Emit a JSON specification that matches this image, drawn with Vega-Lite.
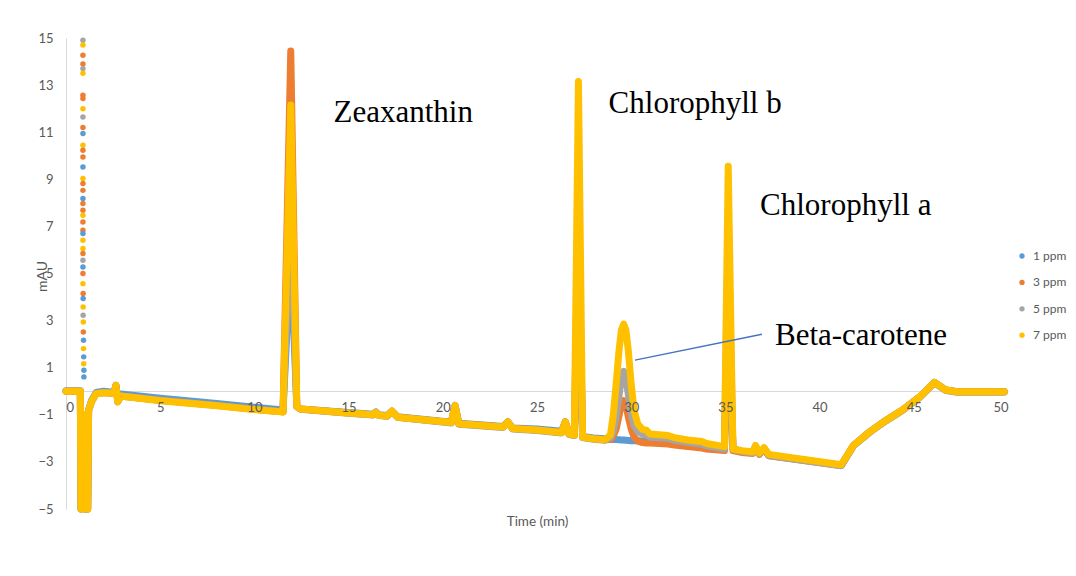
{
  "$schema": "https://vega.github.io/schema/vega-lite/v6.json",
  "autosize": {"type": "none"},
  "padding": {"left": 66, "top": 38, "right": 68, "bottom": 67},
  "width": 942,
  "height": 471,
  "background": "white",
  "config": {
    "view": {"stroke": null},
    "font": "Lato"
  },
  "resolve": {"axis": {"x": "independent"}},
  "datasets": {
    "trace": [
      {"Time": 0, "1 ppm": 0.02, "3 ppm": 0.0, "5 ppm": 0.0, "7 ppm": 0.0},
      {"Time": 0.76, "1 ppm": 0.02, "3 ppm": 0.0, "5 ppm": 0.0, "7 ppm": 0.0},
      {"Time": 0.8, "1 ppm": -5, "3 ppm": -5, "5 ppm": -5, "7 ppm": -5},
      {"Time": 0.95, "1 ppm": -1.0, "3 ppm": -1.0, "5 ppm": -1.0, "7 ppm": -1.0},
      {"Time": 1.0, "1 ppm": -5, "3 ppm": -5, "5 ppm": -5, "7 ppm": -5},
      {"Time": 1.15, "1 ppm": -5, "3 ppm": -5, "5 ppm": -5, "7 ppm": -5},
      {"Time": 1.2, "1 ppm": -0.8, "3 ppm": -0.8, "5 ppm": -0.8, "7 ppm": -0.8},
      {"Time": 1.35, "1 ppm": -0.4, "3 ppm": -0.45, "5 ppm": -0.45, "7 ppm": -0.45},
      {"Time": 1.6, "1 ppm": -0.05, "3 ppm": -0.1, "5 ppm": -0.1, "7 ppm": -0.1},
      {"Time": 2.0, "1 ppm": 0.0, "3 ppm": -0.05, "5 ppm": -0.05, "7 ppm": -0.06},
      {"Time": 2.55, "1 ppm": -0.05, "3 ppm": -0.1, "5 ppm": -0.1, "7 ppm": -0.1},
      {"Time": 2.65, "1 ppm": 0.25, "3 ppm": 0.25, "5 ppm": 0.25, "7 ppm": 0.25},
      {"Time": 2.75, "1 ppm": -0.4, "3 ppm": -0.45, "5 ppm": -0.45, "7 ppm": -0.45},
      {"Time": 2.9, "1 ppm": -0.12, "3 ppm": -0.2, "5 ppm": -0.2, "7 ppm": -0.2},
      {"Time": 5.0, "1 ppm": -0.3, "3 ppm": -0.38, "5 ppm": -0.38, "7 ppm": -0.4},
      {"Time": 8.0, "1 ppm": -0.52, "3 ppm": -0.6, "5 ppm": -0.6, "7 ppm": -0.62},
      {"Time": 10.0, "1 ppm": -0.68, "3 ppm": -0.76, "5 ppm": -0.76, "7 ppm": -0.78},
      {"Time": 11.52, "1 ppm": -0.8, "3 ppm": -0.87, "5 ppm": -0.87, "7 ppm": -0.88},
      {"Time": 11.93, "1 ppm": 5.9, "3 ppm": 14.45, "5 ppm": 7.8, "7 ppm": 12.15},
      {"Time": 12.25, "1 ppm": -0.65, "3 ppm": -0.65, "5 ppm": -0.65, "7 ppm": -0.65},
      {"Time": 12.45, "1 ppm": -0.75, "3 ppm": -0.75, "5 ppm": -0.76, "7 ppm": -0.75},
      {"Time": 15.0, "1 ppm": -0.9, "3 ppm": -0.92, "5 ppm": -0.93, "7 ppm": -0.92},
      {"Time": 16.3, "1 ppm": -0.98, "3 ppm": -1.0, "5 ppm": -1.01, "7 ppm": -1.0},
      {"Time": 16.45, "1 ppm": -0.88, "3 ppm": -0.9, "5 ppm": -0.91, "7 ppm": -0.9},
      {"Time": 16.6, "1 ppm": -1.0, "3 ppm": -1.02, "5 ppm": -1.03, "7 ppm": -1.02},
      {"Time": 17.05, "1 ppm": -1.03, "3 ppm": -1.05, "5 ppm": -1.06, "7 ppm": -1.05},
      {"Time": 17.3, "1 ppm": -0.85, "3 ppm": -0.85, "5 ppm": -0.87, "7 ppm": -0.85},
      {"Time": 17.6, "1 ppm": -1.08, "3 ppm": -1.1, "5 ppm": -1.11, "7 ppm": -1.1},
      {"Time": 20.45, "1 ppm": -1.32, "3 ppm": -1.33, "5 ppm": -1.35, "7 ppm": -1.33},
      {"Time": 20.65, "1 ppm": -0.6, "3 ppm": -0.62, "5 ppm": -0.62, "7 ppm": -0.6},
      {"Time": 20.85, "1 ppm": -1.36, "3 ppm": -1.38, "5 ppm": -1.4, "7 ppm": -1.38},
      {"Time": 23.2, "1 ppm": -1.5, "3 ppm": -1.52, "5 ppm": -1.54, "7 ppm": -1.52},
      {"Time": 23.45, "1 ppm": -1.3, "3 ppm": -1.3, "5 ppm": -1.32, "7 ppm": -1.3},
      {"Time": 23.7, "1 ppm": -1.56, "3 ppm": -1.58, "5 ppm": -1.6, "7 ppm": -1.58},
      {"Time": 25.0, "1 ppm": -1.6, "3 ppm": -1.65, "5 ppm": -1.67, "7 ppm": -1.65},
      {"Time": 26.3, "1 ppm": -1.7, "3 ppm": -1.75, "5 ppm": -1.77, "7 ppm": -1.75},
      {"Time": 26.5, "1 ppm": -1.3, "3 ppm": -1.3, "5 ppm": -1.32, "7 ppm": -1.3},
      {"Time": 26.7, "1 ppm": -1.78, "3 ppm": -1.82, "5 ppm": -1.84, "7 ppm": -1.82},
      {"Time": 26.98, "1 ppm": -1.82, "3 ppm": -1.86, "5 ppm": -1.88, "7 ppm": -1.86},
      {"Time": 27.2, "1 ppm": 4.5, "3 ppm": 6.0, "5 ppm": 8.0, "7 ppm": 13.15},
      {"Time": 27.42, "1 ppm": -1.92, "3 ppm": -1.95, "5 ppm": -1.97, "7 ppm": -1.95},
      {"Time": 28.0, "1 ppm": -1.98, "3 ppm": -2.02, "5 ppm": -2.04, "7 ppm": -2.02},
      {"Time": 28.6, "1 ppm": -2.02, "3 ppm": -2.06, "5 ppm": -2.08, "7 ppm": -2.06},
      {"Time": 28.9, "1 ppm": -2.04, "3 ppm": -2.05, "5 ppm": -1.98, "7 ppm": -1.85},
      {"Time": 29.05, "1 ppm": -2.05, "3 ppm": -1.9, "5 ppm": -1.7, "7 ppm": -1.0},
      {"Time": 29.2, "1 ppm": -2.05, "3 ppm": -1.6, "5 ppm": -1.1, "7 ppm": 0.3},
      {"Time": 29.35, "1 ppm": -2.06, "3 ppm": -1.05, "5 ppm": -0.2, "7 ppm": 1.7},
      {"Time": 29.48, "1 ppm": -2.07, "3 ppm": -0.55, "5 ppm": 0.55, "7 ppm": 2.6},
      {"Time": 29.6, "1 ppm": -2.07, "3 ppm": -0.4, "5 ppm": 0.85, "7 ppm": 2.85},
      {"Time": 29.72, "1 ppm": -2.08, "3 ppm": -0.6, "5 ppm": 0.55, "7 ppm": 2.6},
      {"Time": 29.85, "1 ppm": -2.09, "3 ppm": -1.1, "5 ppm": -0.15, "7 ppm": 1.7},
      {"Time": 30.0, "1 ppm": -2.1, "3 ppm": -1.6, "5 ppm": -0.95, "7 ppm": 0.3},
      {"Time": 30.15, "1 ppm": -2.1, "3 ppm": -1.95, "5 ppm": -1.45, "7 ppm": -0.8},
      {"Time": 30.35, "1 ppm": -2.1, "3 ppm": -2.12, "5 ppm": -1.72, "7 ppm": -1.4},
      {"Time": 30.6, "1 ppm": -2.11, "3 ppm": -2.18, "5 ppm": -1.82, "7 ppm": -1.62},
      {"Time": 30.8, "1 ppm": -2.12, "3 ppm": -2.2, "5 ppm": -1.85, "7 ppm": -1.65},
      {"Time": 31.0, "1 ppm": -2.13, "3 ppm": -2.2, "5 ppm": -1.95, "7 ppm": -1.82},
      {"Time": 31.5, "1 ppm": -2.15, "3 ppm": -2.22, "5 ppm": -1.98, "7 ppm": -1.85},
      {"Time": 31.95, "1 ppm": -2.18, "3 ppm": -2.24, "5 ppm": -2.0, "7 ppm": -1.88},
      {"Time": 32.3, "1 ppm": -2.22, "3 ppm": -2.28, "5 ppm": -2.08, "7 ppm": -1.97},
      {"Time": 33.0, "1 ppm": -2.27, "3 ppm": -2.35, "5 ppm": -2.17, "7 ppm": -2.07},
      {"Time": 33.75, "1 ppm": -2.32, "3 ppm": -2.41, "5 ppm": -2.25, "7 ppm": -2.13},
      {"Time": 34.0, "1 ppm": -2.36, "3 ppm": -2.45, "5 ppm": -2.32, "7 ppm": -2.22},
      {"Time": 34.95, "1 ppm": -2.45, "3 ppm": -2.52, "5 ppm": -2.45, "7 ppm": -2.35},
      {"Time": 35.15, "1 ppm": 3.5, "3 ppm": 5.0, "5 ppm": 7.0, "7 ppm": 9.55},
      {"Time": 35.4, "1 ppm": -2.45, "3 ppm": -2.52, "5 ppm": -2.47, "7 ppm": -2.45},
      {"Time": 35.9, "1 ppm": -2.56, "3 ppm": -2.6, "5 ppm": -2.56, "7 ppm": -2.52},
      {"Time": 36.45, "1 ppm": -2.6, "3 ppm": -2.64, "5 ppm": -2.62, "7 ppm": -2.58},
      {"Time": 36.6, "1 ppm": -2.35, "3 ppm": -2.38, "5 ppm": -2.35, "7 ppm": -2.3},
      {"Time": 36.8, "1 ppm": -2.65, "3 ppm": -2.68, "5 ppm": -2.66, "7 ppm": -2.62},
      {"Time": 37.05, "1 ppm": -2.42, "3 ppm": -2.45, "5 ppm": -2.43, "7 ppm": -2.4},
      {"Time": 37.3, "1 ppm": -2.72, "3 ppm": -2.74, "5 ppm": -2.73, "7 ppm": -2.68},
      {"Time": 41.15, "1 ppm": -3.14, "3 ppm": -3.15, "5 ppm": -3.16, "7 ppm": -3.12},
      {"Time": 41.8, "1 ppm": -2.3, "3 ppm": -2.3, "5 ppm": -2.32, "7 ppm": -2.3},
      {"Time": 42.7, "1 ppm": -1.7, "3 ppm": -1.7, "5 ppm": -1.72, "7 ppm": -1.7},
      {"Time": 43.5, "1 ppm": -1.25, "3 ppm": -1.25, "5 ppm": -1.27, "7 ppm": -1.25},
      {"Time": 44.4, "1 ppm": -0.8, "3 ppm": -0.8, "5 ppm": -0.82, "7 ppm": -0.8},
      {"Time": 45.3, "1 ppm": -0.25, "3 ppm": -0.25, "5 ppm": -0.27, "7 ppm": -0.25},
      {"Time": 46.1, "1 ppm": 0.38, "3 ppm": 0.38, "5 ppm": 0.36, "7 ppm": 0.38},
      {"Time": 46.7, "1 ppm": 0.05, "3 ppm": 0.05, "5 ppm": 0.03, "7 ppm": 0.05},
      {"Time": 47.3, "1 ppm": -0.02, "3 ppm": -0.02, "5 ppm": -0.04, "7 ppm": -0.02},
      {"Time": 49.8, "1 ppm": -0.01, "3 ppm": -0.02, "5 ppm": -0.04, "7 ppm": -0.02}
    ],
    "spike": [
      {"Series": "5 ppm", "Time": 0.9, "mAU": 14.9},
      {"Series": "7 ppm", "Time": 0.9, "mAU": 14.7},
      {"Series": "3 ppm", "Time": 0.9, "mAU": 14.27},
      {"Series": "3 ppm", "Time": 0.9, "mAU": 13.9},
      {"Series": "5 ppm", "Time": 0.9, "mAU": 13.7},
      {"Series": "7 ppm", "Time": 0.9, "mAU": 13.5},
      {"Series": "3 ppm", "Time": 0.9, "mAU": 12.57},
      {"Series": "3 ppm", "Time": 0.9, "mAU": 12.43},
      {"Series": "7 ppm", "Time": 0.9, "mAU": 12.0},
      {"Series": "5 ppm", "Time": 0.9, "mAU": 11.65},
      {"Series": "3 ppm", "Time": 0.9, "mAU": 11.2},
      {"Series": "1 ppm", "Time": 0.9, "mAU": 10.94},
      {"Series": "7 ppm", "Time": 0.9, "mAU": 10.45},
      {"Series": "3 ppm", "Time": 0.9, "mAU": 10.23},
      {"Series": "3 ppm", "Time": 0.9, "mAU": 9.95},
      {"Series": "1 ppm", "Time": 0.9, "mAU": 9.52},
      {"Series": "7 ppm", "Time": 0.9, "mAU": 9.03},
      {"Series": "3 ppm", "Time": 0.9, "mAU": 8.82},
      {"Series": "3 ppm", "Time": 0.9, "mAU": 8.53},
      {"Series": "1 ppm", "Time": 0.9, "mAU": 8.18},
      {"Series": "3 ppm", "Time": 0.9, "mAU": 7.97},
      {"Series": "3 ppm", "Time": 0.9, "mAU": 7.69},
      {"Series": "7 ppm", "Time": 0.9, "mAU": 7.47},
      {"Series": "3 ppm", "Time": 0.9, "mAU": 7.19},
      {"Series": "3 ppm", "Time": 0.9, "mAU": 6.84},
      {"Series": "1 ppm", "Time": 0.9, "mAU": 6.7},
      {"Series": "7 ppm", "Time": 0.9, "mAU": 6.41},
      {"Series": "7 ppm", "Time": 0.9, "mAU": 6.06},
      {"Series": "3 ppm", "Time": 0.9, "mAU": 5.85},
      {"Series": "5 ppm", "Time": 0.9, "mAU": 5.56},
      {"Series": "1 ppm", "Time": 0.9, "mAU": 5.28},
      {"Series": "3 ppm", "Time": 0.9, "mAU": 5.0},
      {"Series": "7 ppm", "Time": 0.9, "mAU": 4.57},
      {"Series": "3 ppm", "Time": 0.91, "mAU": 4.15},
      {"Series": "1 ppm", "Time": 0.91, "mAU": 3.94},
      {"Series": "7 ppm", "Time": 0.91, "mAU": 3.58},
      {"Series": "5 ppm", "Time": 0.91, "mAU": 3.23},
      {"Series": "7 ppm", "Time": 0.92, "mAU": 2.94},
      {"Series": "3 ppm", "Time": 0.92, "mAU": 2.52},
      {"Series": "1 ppm", "Time": 0.93, "mAU": 2.17},
      {"Series": "7 ppm", "Time": 0.93, "mAU": 1.81},
      {"Series": "1 ppm", "Time": 0.94, "mAU": 1.46},
      {"Series": "7 ppm", "Time": 0.94, "mAU": 1.17},
      {"Series": "1 ppm", "Time": 0.95, "mAU": 0.89},
      {"Series": "1 ppm", "Time": 0.95, "mAU": 0.61}
    ],
    "labels": [
      {"label": "Zeaxanthin", "Time": 14.2, "mAU": 11.43},
      {"label": "Chlorophyll b", "Time": 28.8, "mAU": 11.8},
      {"label": "Chlorophyll a", "Time": 36.84, "mAU": 7.47},
      {"label": "Beta-carotene", "Time": 37.63, "mAU": 1.95}
    ],
    "pointer": [
      {"Time": 30.2, "mAU": 1.32, "Time2": 36.94, "mAU2": 2.42}
    ]
  },
  "layer": [
    {
      "data": {"name": "trace"},
      "transform": [
        {"fold": ["1 ppm", "3 ppm", "5 ppm", "7 ppm"], "as": ["Series", "mAU"]}
      ],
      "mark": {"type": "line", "strokeWidth": 7, "strokeCap": "round", "strokeJoin": "round"},
      "encoding": {
        "x": {
          "field": "Time", "type": "quantitative",
          "scale": {"domain": [0, 50], "nice": false, "zero": false},
          "axis": {
            "orient": "bottom",
            "title": null,
            "labels": false,
            "offset": -118,
            "grid": false,
            "ticks": false,
            "domainColor": "#d9d9d9",
            "domainWidth": 1,
            "zindex": 0
          }
        },
        "y": {
          "field": "mAU", "type": "quantitative",
          "scale": {"domain": [-5, 15], "nice": false, "zero": false},
          "axis": {
            "title": "mAU",
            "values": [-5, -3, -1, 1, 3, 5, 7, 9, 11, 13, 15],
            "grid": false,
            "ticks": false,
            "domainColor": "#d9d9d9",
            "domainWidth": 1,
            "labelPadding": 13,
            "labelFontSize": 13,
            "labelColor": "#595959",
            "labelFont": "Lato",
            "titleFont": "Lato",
            "titleFontSize": 14,
            "titleFontWeight": "normal",
            "titleColor": "#595959",
            "titleX": -24,
            "titleY": 238,
            "titleAngle": 270,
            "titleAlign": "center",
            "titleBaseline": "middle"
          }
        },
        "color": {
          "field": "Series", "type": "nominal",
          "scale": {"domain": ["1 ppm", "3 ppm", "5 ppm", "7 ppm"], "range": ["#5B9BD5", "#ED7D31", "#A5A5A5", "#FFC000"]}
        }
      }
    },
    {
      "data": {"name": "spike"},
      "mark": {"type": "circle", "size": 30, "opacity": 1},
      "encoding": {
        "x": {"field": "Time", "type": "quantitative", "axis": null},
        "y": {"field": "mAU", "type": "quantitative"},
        "color": {
          "field": "Series", "type": "nominal",
          "legend": {
            "title": null,
            "orient": "none",
            "legendX": 950,
            "legendY": 212,
            "symbolType": "circle",
            "symbolSize": 28,
            "symbolStrokeWidth": 0,
            "labelFontSize": 12,
            "labelColor": "#595959",
            "labelFont": "Lato",
            "rowPadding": 14.4,
            "labelOffset": 5
          }
        }
      }
    },
    {
      "data": {"name": "pointer"},
      "mark": {"type": "rule", "color": "#4472C4", "strokeWidth": 1.3},
      "encoding": {
        "x": {"field": "Time", "type": "quantitative", "axis": null},
        "y": {"field": "mAU", "type": "quantitative"},
        "x2": {"field": "Time2"},
        "y2": {"field": "mAU2"}
      }
    },
    {
      "data": {"name": "labels"},
      "mark": {"type": "text", "font": "Liberation Serif", "fontSize": 31, "align": "left", "baseline": "alphabetic", "color": "#000000"},
      "encoding": {
        "x": {
          "field": "Time", "type": "quantitative",
          "axis": {
            "orient": "bottom",
            "title": "Time (min)",
            "values": [0, 5, 10, 15, 20, 25, 30, 35, 40, 45, 50],
            "offset": -118,
            "domain": false,
            "grid": false,
            "ticks": false,
            "labelPadding": 10,
            "labelFontSize": 13,
            "labelColor": "#595959",
            "labelFont": "Lato",
            "titleFont": "Lato",
            "titleFontSize": 13.5,
            "titleFontWeight": "normal",
            "titleColor": "#595959",
            "titleY": 130,
            "titleBaseline": "middle",
            "zindex": 1
          }
        },
        "y": {"field": "mAU", "type": "quantitative"},
        "text": {"field": "label"}
      }
    }
  ]
}
